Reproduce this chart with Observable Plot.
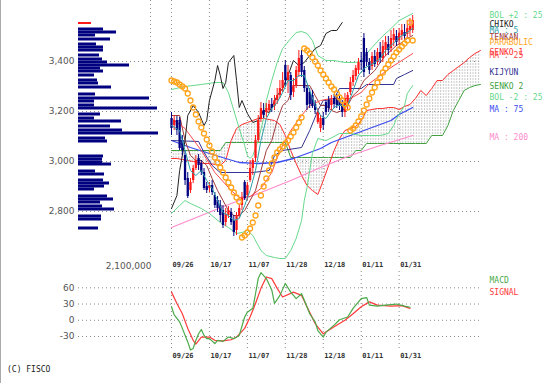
<!DOCTYPE html>
<html><head><meta charset="utf-8">
<script src="https://cdn.jsdelivr.net/npm/d3@7"></script>
<script src="https://cdn.jsdelivr.net/npm/@observablehq/plot@0.6"></script>
<style>
body{margin:0;background:#fff;}
#wrap{position:relative;width:552px;height:383px;overflow:hidden;background:#fff;}
#wrap svg{position:absolute;left:0;top:0;}
#copy{position:absolute;left:7px;top:365px;font:8px "DejaVu Sans Mono",monospace;color:#222;white-space:pre;}
#edge{position:absolute;left:0;top:0;width:1px;height:383px;background:#aaa;}
</style></head><body>
<svg width="0" height="0" style="position:absolute"><defs>
<pattern id="hatch" width="2.7" height="3" patternUnits="userSpaceOnUse"><line x1="0.6" y1="0" x2="0.6" y2="2" stroke="#b4b4b4" stroke-width="0.8"/></pattern>
</defs></svg>
<div id="wrap"><div id="edge"></div><div id="copy">(C) FISCO</div></div>
<script>
// ---------- data ----------
const dateIdx = [0,14,28,42,56,70,84];
const dateLabels = ["09/26","10/17","11/07","11/28","12/18","01/11","01/31"];
const priceTicks = [2800,3000,3200,3400];
const macdTicks = [-30,0,30,60];

const open = [3172,3144,3164,3164,3084,3024,2932,2884,2924,2972, 3012,2992,2956,2900,2892,2904,2864,2844,2824,2804, 2756,2784,2796,2764,2724,2784,2824,2916,2864,2924, 2972,3012,3084,3172,3204,3196,3204,3228,3220,3244, 3264,3292,3384,3324,3344,3276,3304,3356,3424,3364, 3292,3276,3264,3228,3156,3132,3172,3236,3244,3224, 3252,3256,3244,3228,3196,3224,3276,3316,3340,3364, 3404,3492,3436,3396,3380,3420,3396,3436,3412,3444, 3468,3452,3484,3500,3484,3504,3516,3508,3524,3524];
const close = [3132,3164,3124,3052,3044,2924,2860,2916,2972,3004, 2984,2956,2892,2884,2904,2876,2824,2812,2784,2744, 2788,2804,2756,2716,2784,2812,2852,2852,2904,2972, 3004,3084,3164,3212,3184,3212,3228,3212,3244,3264, 3292,3324,3324,3356,3264,3304,3364,3412,3356,3292, 3224,3228,3220,3204,3196,3172,3144,3196,3212,3244, 3228,3224,3220,3196,3252,3264,3316,3344,3372,3396, 3396,3356,3396,3364,3420,3388,3436,3412,3460,3476, 3444,3492,3508,3476,3512,3524,3500,3532,3540,3564];
const high = [3196,3184,3180,3176,3104,3044,2956,2932,2984,3024, 3028,3004,2972,2916,2916,2924,2876,2860,2844,2824, 2812,2820,2812,2784,2796,2828,2876,2924,2916,3004, 3012,3104,3184,3236,3232,3232,3244,3252,3264,3292, 3324,3356,3404,3384,3356,3332,3380,3444,3444,3380, 3304,3292,3284,3244,3212,3184,3196,3244,3260,3264, 3268,3268,3260,3244,3272,3276,3336,3364,3384,3412, 3436,3512,3452,3412,3436,3444,3452,3476,3484,3500, 3500,3524,3532,3524,3532,3548,3548,3564,3572,3584];
const low = [3104,3124,3104,3044,3024,2904,2852,2872,2912,2964, 2964,2944,2884,2872,2876,2864,2812,2796,2756,2732, 2740,2772,2744,2700,2704,2772,2804,2844,2844,2916, 2944,2996,3076,3156,3172,3176,3192,3196,3204,3228, 3252,3276,3296,3272,3244,3256,3292,3336,3336,3276, 3204,3212,3212,3188,3148,3116,3124,3184,3196,3204, 3212,3212,3204,3176,3176,3204,3264,3300,3324,3348, 3364,3336,3380,3348,3364,3376,3384,3392,3396,3420, 3424,3436,3460,3460,3464,3484,3484,3492,3500,3512];

const sar = [3324,3320,3316,3308,3300,3292,3272,3244,3216,3188, 3160,3136,3112,3088,3064,3040,3016,2996,2976,2956, 2936,2916,2896,2876,2856,2840,2696,2704,2716,2732, 2756,2784,2824,2864,2900,2932,2964,2992,3016,3036, 3048,3060,3072,3084,3100,3116,3136,3156,3176,3452, 3444,3432,3416,3400,3384,3364,3348,3332,3316,3300, 3288,3272,3256,3244,3228,3216,3124,3132,3144,3160, 3180,3204,3228,3252,3276,3296,3316,3336,3356,3372, 3388,3404,3420,3436,3448,3460,3472,3484,3556,3484];

const chikoIdx = [0,2,3,5,6,8,10,12,13,14,16,17,18,19,20,21,23,24,25,26,28,30,32,34,36,39,41,43,45,47,49,51,53,55,57,59,61,63];
const chiko = [2812,2864,2964,3084,3184,3224,3196,3144,3164,3244,3324,3384,3344,3292,3316,3396,3424,3324,3216,3244,3192,3156,3164,3204,3196,3264,3292,3344,3404,3384,3396,3424,3452,3464,3512,3524,3524,3556];

const bolUpIdx = [0,5,11,16,19,21,23,25,27,28,29,30,32,34,35,37,39,41,44,46,48,50,52,54,57,60,64,68,70,73,77,81,84,89];
const bolUp = [3288,3300,3308,3316,3316,3276,3204,3132,3064,3024,3012,3024,3084,3172,3244,3324,3396,3452,3492,3516,3520,3512,3484,3424,3404,3404,3396,3396,3404,3444,3492,3532,3564,3592];
const bolLoIdx = [0,3,5,7,11,14,18,21,24,26,28,30,33,35,38,40,42,44,46,48,49,50,52,54,57,60,62,66,70,73,77,80,82,83,86,87,89];
const bolLo = [2792,2824,2844,2832,2812,2792,2756,2736,2712,2716,2724,2704,2644,2624,2616,2612,2612,2644,2692,2764,2844,2896,3032,3092,3084,3100,3112,3112,3104,3104,3104,3112,3144,3172,3224,3272,3304];

const oddIdx = [0,3,5,7,9,11,13,15,17,19,21,23,25,27,29,31,33,35,37,39,41,43,45,47,49,51,53,55,57,59,61,63,65,67,69,71,73,75,77,79,81,83,85,87,89];
const ma5 = [3144,3124,3044,2964,2944,2964,2924,2892,2844,2796,2784,2764,2772,2824,2884,2964,3084,3172,3212,3236,3276,3324,3324,3344,3344,3284,3224,3184,3172,3204,3224,3224,3224,3284,3344,3372,3384,3396,3412,3444,3464,3484,3504,3516,3532];
const tenkan = [3184,3184,3084,3024,3004,3004,2984,2932,2884,2844,2804,2784,2784,2804,2844,2884,2964,3044,3084,3164,3224,3244,3304,3304,3304,3304,3264,3224,3224,3204,3196,3204,3224,3264,3284,3324,3344,3364,3396,3424,3444,3464,3476,3492,3504];

const ma25Idx = [0,5,11,16,22,25,29,33,37,40,44,48,51,55,59,62,66,70,73,77,81,85,89];
const ma25 = [3172,3132,3044,2956,2884,2856,2860,2892,2956,3044,3124,3184,3224,3244,3252,3252,3252,3276,3312,3344,3376,3404,3432];
const ma75Idx = [0,7,14,20,25,32,39,45,50,55,59,66,73,81,84,89];
const ma75 = [3084,3056,3032,3012,2996,2992,2996,3012,3032,3052,3076,3104,3132,3164,3188,3216];
const ma200Idx = [0,11,22,33,44,55,66,77,89];
const ma200 = [2736,2784,2832,2876,2924,2976,3024,3064,3104];

const kijunIdx = [0,10,12,15,18,30,36,38,41,48,51,54,56,60,62,70,72,82,83,86,89];
const kijun = [3084,3080,3036,2984,2956,2956,2964,3024,3044,3056,3124,3204,3244,3252,3292,3292,3308,3308,3332,3348,3364];

const cloudIdx = [0,2,4,6,8,10,12,14,16,18,20,22,24,26,28,30,32,34,36,38,40,42,44,46,48,50,52,54,56,58,60,62,64,66,68,70,72,74,76,78,80,82,84,86,88,90,92,94,96,98,100,102,104,106,108,110,112,114];
const senko1 = [3012,3012,3008,3004,3000,2996,2992,2992,2988,2984, 3004,3084,3132,3148,3156,3164,3172,3172,3168,3164, 3148,3104,3044,2992,2944,2904,2884,2868,2924,2984, 3044,3092,3124,3132,3140,3164,3204,3208,3212,3212, 3216,3216,3208,3220,3228,3252,3284,3264,3292,3324, 3324,3348,3364,3380,3396,3416,3432,3444];
const senko2 = [3044,3044,3044,3044,3044,3044,3044,3044,3044,3044, 3076,3076,3076,3076,3076,3076,3076,3076,3076,3076, 3076,3076,3016,3016,3016,3016,3016,3016,3016,3016, 3016,3016,3016,3016,3044,3044,3072,3072,3072,3072, 3072,3072,3072,3072,3072,3072,3072,3072,3104,3104, 3104,3144,3204,3244,3284,3296,3304,3308];

const volPrice = [3552,3528,3516,3504,3488,3468,3456,3444,3424,3408,3396,3384,3372,3360,3344,3324,3312,3296,3268,3252,3240,3224,3212,3188,3172,3160,3140,3124,3112,3092,3080,3020,3008,2996,2988,2960,2948,2924,2912,2900,2888,2860,2848,2836,2820,2808,2780,2768,2732];
const volume = [379000,729000,1108000,496000,933000,525000,729000,729000,612000,700000,846000,1488000,642000,729000,467000,554000,583000,963000,496000,2071000,467000,467000,2304000,642000,467000,1254000,933000,1283000,2333000,788000,846000,729000,700000,700000,963000,496000,758000,729000,904000,758000,467000,846000,1021000,642000,700000,1050000,671000,671000,583000];
const volMax = 2100000;

const macdIdx = [0,1,3,4,6,7,8,9,10,11,12,13,14,16,17,19,21,23,25,27,28,30,31,32,33,35,37,38,40,42,44,46,48,49,51,53,54,56,57,60,62,65,67,70,72,73,76,79,83,86,88];
const macd = [25,10,-3,-15,-40,-55,-52,-37,-25,-17,-28,-34,-34,-43,-37,-39,-31,-34,-28,6,15,22,49,77,88,77,56,31,46,68,52,40,49,37,12,-3,-19,-31,-22,-9,1,6,22,40,42,28,26,28,30,26,24];
const sigIdx = [0,2,4,6,8,9,11,14,16,19,22,24,27,29,31,33,35,37,39,41,45,48,50,53,56,60,64,67,70,73,76,81,85,88];
const signal = [52,31,12,-15,-37,-44,-31,-31,-37,-38,-36,-31,-15,6,31,59,80,77,59,43,52,46,25,-6,-25,-12,0,12,25,34,28,26,27,22];

// ---------- styles ----------
const C = {
  up:"#ff1a1a", down:"#000080", bol:"#66d98c", chiko:"#222222", ma5:"#2a9fa8", tenkan:"#a03a3a",
  sar:"#ffa41c", senko1:"#ff3030", ma25:"#ff4a4a", kijun:"#343494", senko2:"#3f9f3f",
  ma75:"#3b4cf0", ma200:"#ff8ccc", macd:"#4aaa4a", signal:"#ff3a3a", grid:"#8a8a8a"
};
const dotted = {stroke:C.grid, strokeDasharray:"1,3"};
const mono = {fontFamily:"DejaVu Sans Mono, monospace", fontSize:8};
const dateFont = {fontFamily:"DejaVu Sans Mono, monospace", fontSize:7, fontWeight:"bold", fill:"#333"};
const axisFont = {fontFamily:"DejaVu Sans, sans-serif", fontSize:9, fill:"#555"};

const pts = (I, V) => I.map((i, k) => ({i, v: V[k]}));
const candles = open.map((o, i) => ({i, o, c: close[i], h: high[i], l: low[i], up: close[i] >= o}));
const cloud = cloudIdx.map((i, k) => ({i, s1: senko1[k], s2: senko2[k]}));
const sarPts = sar.map((v, i) => ({i, v}));
const vol = volPrice.map((p, k) => ({p, v: volume[k], k}));
const last = a => a[a.length - 1];

const X = {domain:[0,115], range:[171,482.65], axis:null};
const Y = {domain:[2800,3400], range:[211,61], axis:null};
const base = {width:552, height:383, marginLeft:78, marginRight:72, style:{background:"transparent", overflow:"visible"}};

const legend = [
  {t:"BOL +2 : 25", c:C.bol, v:last(bolUp)},
  {t:"CHIKO", c:C.chiko, v:last(chiko)},
  {t:"MA : 5", c:C.ma5, v:last(ma5)},
  {t:"TENKAN", c:C.tenkan, v:last(tenkan)},
  {t:"PARABOLIC", c:C.sar, v:last(sar)},
  {t:"SENKO 1", c:C.senko1, v:last(senko1)},
  {t:"MA : 25", c:C.ma25, v:last(ma25)},
  {t:"KIJYUN", c:C.kijun, v:last(kijun)},
  {t:"SENKO 2", c:C.senko2, v:last(senko2)},
  {t:"MA : 75", c:C.ma75, v:last(ma75)},
  {t:"MA : 200", c:C.ma200, v:last(ma200)}
];
const legendLo = [{t:"BOL -2 : 25", c:C.bol, v:last(bolLo)}];

const ln = (I, V, stroke, w = 1) => Plot.line(pts(I, V), {x:"i", y:"v", stroke, strokeWidth:w});

const main = Plot.plot({
  ...base, marginTop:0, marginBottom:125, x:X, y:Y,
  color:{type:"identity"},
  marks:[
    Plot.ruleY(priceTicks, dotted),
    Plot.ruleX(dateIdx, dotted),
    Plot.text(priceTicks, {y:d=>d, text:d=>d3.format(",")(d), frameAnchor:"left", textAnchor:"end", dx:-4, ...axisFont}),
    Plot.text(dateIdx, {x:d=>d, text:(d,k)=>dateLabels[k], frameAnchor:"bottom", textAnchor:"start", dx:1, dy:8, ...dateFont}),
    Plot.areaY(cloud, {x:"i", y1:"s1", y2:"s2", fill:"url(#hatch)"}),
    Plot.line(cloud, {x:"i", y:"s2", stroke:C.senko2, strokeWidth:1}),
    Plot.line(cloud, {x:"i", y:"s1", stroke:C.senko1, strokeWidth:1}),
    ln(ma200Idx, ma200, C.ma200, 1.3),
    ln(ma75Idx, ma75, C.ma75, 1.3),
    ln(bolUpIdx, bolUp, C.bol),
    ln(bolLoIdx, bolLo, C.bol),
    ln(kijunIdx, kijun, C.kijun),
    ln(oddIdx, tenkan, C.tenkan),
    ln(ma25Idx, ma25, C.ma25),
    ln(chikoIdx, chiko, C.chiko),
    Plot.ruleX(candles, {filter:d=>d.up, x:"i", y1:"l", y2:"h", stroke:C.up}),
    Plot.ruleX(candles, {filter:d=>!d.up, x:"i", y1:"l", y2:"h", stroke:C.down}),
    Plot.ruleX(candles, {filter:d=>d.up, x:"i", y1:"o", y2:"c", stroke:C.up, strokeWidth:2.3}),
    Plot.ruleX(candles, {filter:d=>!d.up, x:"i", y1:"o", y2:"c", stroke:C.down, strokeWidth:2.3}),
    ln(oddIdx, ma5, C.ma5),
    Plot.dot(sarPts, {x:"i", y:"v", r:2.5, stroke:C.sar, strokeWidth:1.3, fill:"none"}),
    Plot.text(legend, {y:"v", text:"t", fill:"c", frameAnchor:"right", textAnchor:"start", dx:9, dy:2, ...mono}),
    Plot.text(legendLo, {y:"v", text:"t", fill:"c", frameAnchor:"right", textAnchor:"start", dx:9, dy:12, ...mono})
  ]
});

const volPlot = Plot.plot({
  ...base, marginTop:0, marginBottom:125,
  x:{domain:[0, volMax], range:[78,150], axis:null}, y:Y,
  marks:[
    Plot.ruleX([volMax], dotted),
    Plot.rect(vol, {filter:d=>d.k>0, x1:()=>0, x2:"v", y1:d=>d.p-6, y2:d=>d.p+6, fill:C.down}),
    Plot.rect(vol, {filter:d=>d.k===0, x1:()=>0, x2:"v", y1:d=>d.p-4, y2:d=>d.p+4, fill:"#ff1a1a"}),
    Plot.text([volMax], {x:d=>d, text:d=>d3.format(",")(d), frameAnchor:"bottom", textAnchor:"end", dx:1, dy:10, ...axisFont})
  ]
});

const macdPlot = Plot.plot({
  ...base, marginTop:271, marginBottom:32,
  x:X, y:{domain:[-30,60], range:[336,287.3], axis:null},
  marks:[
    Plot.ruleY(macdTicks, dotted),
    Plot.ruleX(dateIdx, dotted),
    Plot.text(macdTicks, {y:d=>d, text:d=>String(d), frameAnchor:"left", textAnchor:"end", dx:-4, ...axisFont}),
    Plot.text(dateIdx, {x:d=>d, text:(d,k)=>dateLabels[k], frameAnchor:"bottom", textAnchor:"start", dx:1, dy:6, ...dateFont}),
    ln(sigIdx, signal, C.signal, 1.2),
    ln(macdIdx, macd, C.macd, 1.2),
    Plot.text(["MACD"], {text:d=>d, frameAnchor:"top-right", textAnchor:"start", dx:9, dy:6, fill:C.macd, ...mono}),
    Plot.text(["SIGNAL"], {text:d=>d, frameAnchor:"top-right", textAnchor:"start", dx:9, dy:18, fill:C.signal, ...mono})
  ]
});

const wrap = document.getElementById("wrap");
wrap.appendChild(main);
wrap.appendChild(volPlot);
wrap.appendChild(macdPlot);
</script>
</body></html>
